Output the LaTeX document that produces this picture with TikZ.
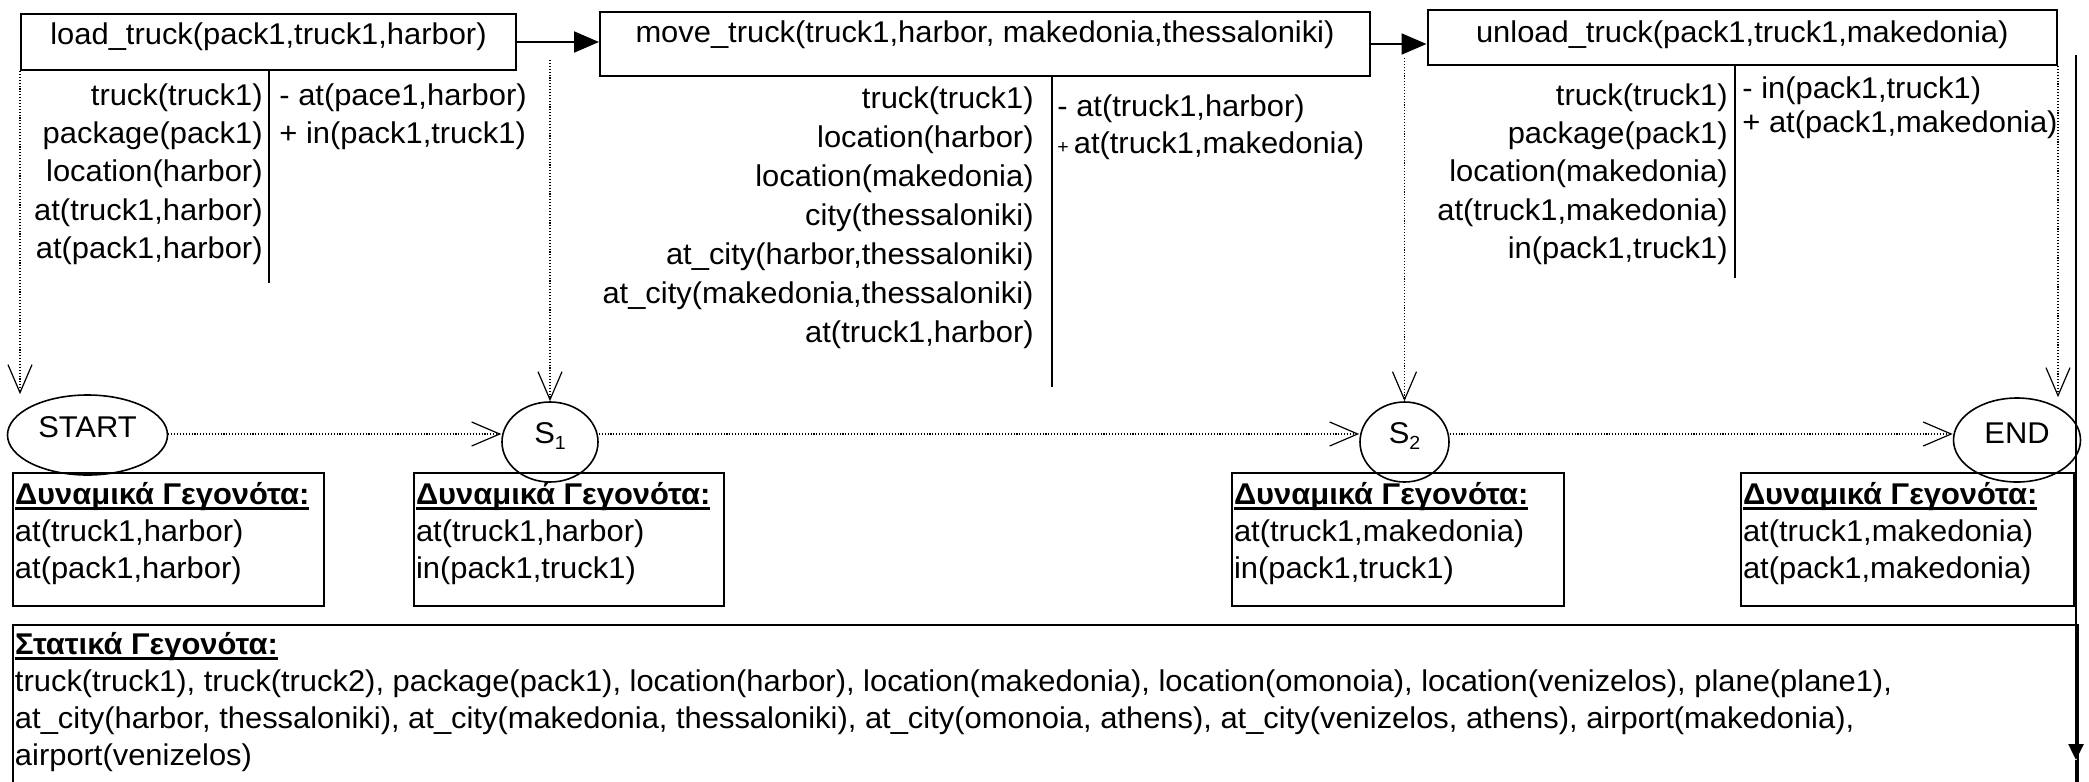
\documentclass[tikz,border=0pt]{standalone}
\usepackage{fontspec}
\setmainfont{Liberation Sans}[FakeStretch=1.03]
\usetikzlibrary{arrows.meta,shapes.geometric}
\newsavebox\ulbox
\newcommand\ulhead[1]{\sbox\ulbox{\bfseries #1}\rlap{\rule[-3pt]{\wd\ulbox}{1.4pt}}\usebox\ulbox}
\newcommand\fs{\fontsize{15pt}{19.2pt}\selectfont}
\newcommand\sname[1]{S\raisebox{-3pt}{\fontsize{9.5pt}{9.5pt}\selectfont #1}}
\newcommand\lift[2]{\raisebox{#1}[\height][\depth]{#2}}
\newcommand\smallplus{{\fontsize{9.5pt}{9.5pt}\selectfont+}}

\begin{document}
\begin{tikzpicture}[x=0.5pt,y=-0.5pt,
  every node/.style={font=\fs, inner sep=0pt},
  actbox/.style={draw, line width=1pt, anchor=base},
  sepline/.style={line width=0.7pt},
  precol/.style={anchor=base east},
  effcol/.style={anchor=base west},
  flow/.style={line width=1pt, -{Triangle[length=12.5pt,width=10.5pt]}},
  dots/.style={line width=0.55pt, dash pattern=on 0.55pt off 0.9pt,
    -{Straight Barb[length=14pt,width=12pt,line width=0.6pt]}},
  state/.style={draw, ellipse, line width=0.8pt},
  factbox/.style={draw, line width=1pt, anchor=base west, inner xsep=1pt},
]
\useasboundingbox (0,0) rectangle (2089,782);

% action boxes
\node[actbox, minimum width=247.5pt, text height=15pt, text depth=13pt] (load) at (268.5,44) {load\_truck(pack1,truck1,harbor)};
\node[actbox, minimum width=385pt, text height=15pt, text depth=17pt] (move) at (985,42) {move\_truck(truck1,harbor, makedonia,thessaloniki)};
\node[actbox, minimum width=314.75pt, text height=16pt, text depth=11.5pt] (unload) at (1742.25,42) {unload\_truck(pack1,truck1,makedonia)};

\draw[flow] (load.east) -- (load.east -| move.west);
\draw[flow] (move.east) -- (move.east -| unload.west);

% separators
\coordinate (sepA) at (269,283);
\coordinate (sepB) at (1052,387);
\coordinate (sepC) at (1735,278);
\draw[sepline] (sepA |- load.south) -- (sepA);
\draw[sepline] (sepB |- move.south) -- (sepB);
\draw[sepline] (sepC |- unload.south) -- (sepC);

% preconditions / effects
\node[precol] (loadpre) at (263,105) {\begin{tabular}[t]{@{}r@{}}truck(truck1)\\package(pack1)\\location(harbor)\\at(truck1,harbor)\\at(pack1,harbor)\end{tabular}};
\node[effcol] (loadeff) at (279,105) {\def\arraystretch{0.99}\begin{tabular}[t]{@{}l@{}}- at(pace1,harbor)\\+ in(pack1,truck1)\end{tabular}};

\node[precol] (movepre) at (1034,108) {\def\arraystretch{1.016}\begin{tabular}[t]{@{}r@{}}truck(truck1)\\location(harbor)\\location(makedonia)\\city(thessaloniki)\\at\_city(harbor,thessaloniki)\\at\_city(makedonia,thessaloniki)\\at(truck1,harbor)\end{tabular}};
\node[effcol] (moveeff) at (1057,116) {\def\arraystretch{0.964}\begin{tabular}[t]{@{}l@{}}- at(truck1,harbor)\\\smallplus\,at(truck1,makedonia)\end{tabular}};

\node[precol] (unloadpre) at (1728,105) {\begin{tabular}[t]{@{}r@{}}truck(truck1)\\package(pack1)\\location(makedonia)\\at(truck1,makedonia)\\in(pack1,truck1)\end{tabular}};
\node[effcol] (unloadeff) at (1742,98) {\def\arraystretch{0.911}\begin{tabular}[t]{@{}l@{}}- in(pack1,truck1)\\+ at(pack1,makedonia)\end{tabular}};

% states
\node[state, minimum width=80pt, minimum height=40pt] (start) at (87.5,435) {\lift{4pt}{START}};
\node[state, minimum width=48pt, minimum height=40pt] (s1) at (550,442) {\lift{3pt}{\sname{1}}};
\node[state, minimum width=44.5pt, minimum height=40pt] (s2) at (1404.5,442) {\lift{3pt}{\sname{2}}};
\node[state, minimum width=63.5pt, minimum height=42pt] (end) at (2017,440) {\lift{3.5pt}{END}};

% dotted arrows down
\coordinate (s1top) at (550,60);
\coordinate (s2top) at (1404.5,58);
\draw[dots] (load.south west) -- (load.south west |- start.north);
\draw[dots] (s1top) -- (s1.north);
\draw[dots] (s2top) -- (s2.north);
\draw[dots] (unload.south east) -- (unload.south east |- end.north);

% dotted arrows between states
\coordinate (hy) at (0,434);
\draw[dots] (start.east |- hy) -- (s1.west |- hy);
\draw[dots] (s1.east |- hy) -- (s2.west |- hy);
\draw[dots] (s2.east |- hy) -- (end.west |- hy);

% dynamic facts
\node[factbox, text height=15.5pt, text depth=51pt] (dyn0) at (12,504) {\makebox[153.5pt][l]{\def\arraystretch{0.9635}\begin{tabular}[t]{@{}l@{}}\ulhead{Δυναμικά Γεγονότα:}\\at(truck1,harbor)\\at(pack1,harbor)\end{tabular}}};
\node[factbox, text height=15.5pt, text depth=51pt] (dyn1) at (413,504) {\makebox[153pt][l]{\def\arraystretch{0.9635}\begin{tabular}[t]{@{}l@{}}\ulhead{Δυναμικά Γεγονότα:}\\at(truck1,harbor)\\in(pack1,truck1)\end{tabular}}};
\node[factbox, text height=15.5pt, text depth=51pt] (dyn2) at (1231,504) {\makebox[164pt][l]{\def\arraystretch{0.9635}\begin{tabular}[t]{@{}l@{}}\ulhead{Δυναμικά Γεγονότα:}\\at(truck1,makedonia)\\in(pack1,truck1)\end{tabular}}};
\node[factbox, text height=15.5pt, text depth=51pt] (dyn3) at (1740,504) {\makebox[164.5pt][l]{\def\arraystretch{0.9635}\begin{tabular}[t]{@{}l@{}}\ulhead{Δυναμικά Γεγονότα:}\\at(truck1,makedonia)\\at(pack1,makedonia)\end{tabular}}};

% static facts
\node[factbox, text height=14.5pt, text depth=75pt] (static) at (12,654) {\makebox[1030.5pt][l]{\def\arraystretch{0.9635}\begin{tabular}[t]{@{}l@{}}\ulhead{Στατικά Γεγονότα:}\\truck(truck1), truck(truck2), package(pack1), location(harbor), location(makedonia), location(omonoia), location(venizelos), plane(plane1),\\at\_city(harbor, thessaloniki), at\_city(makedonia, thessaloniki), at\_city(omonoia, athens), at\_city(venizelos, athens), airport(makedonia),\\airport(venizelos)\end{tabular}}};

% right time line
\coordinate (rtop) at (2076,55);
\coordinate (rtip) at (2076,760);
\coordinate (rbot) at (2076,800);
\draw[line width=1.3pt, -{Triangle[length=8pt,width=7.5pt]}] (rtop) -- (rtip);
\draw[line width=1.3pt] (rtip) -- (rbot);
\end{tikzpicture}
\end{document}
